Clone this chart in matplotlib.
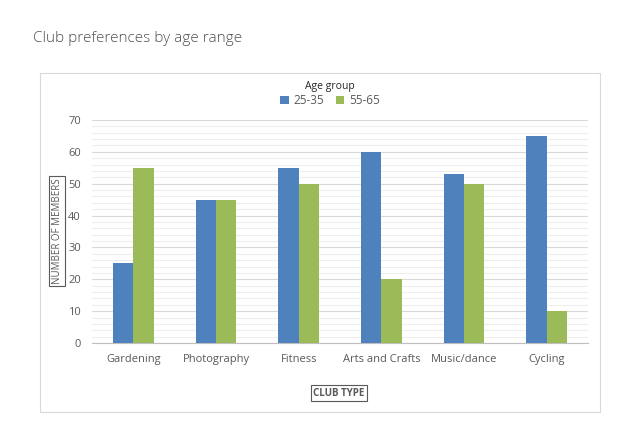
import numpy as np
import matplotlib.pyplot as plt
from matplotlib.patches import Rectangle
from matplotlib.ticker import MultipleLocator

plt.rcParams['font.family'] = ['Open Sans', 'DejaVu Sans']

# data
clubs = ['Gardening', 'Photography', 'Fitness', 'Arts and Crafts', 'Music/dance', 'Cycling']
age_25_35 = [25, 45, 55, 60, 53, 65]
age_55_65 = [55, 45, 50, 20, 50, 10]
groups = ['25-35', '55-65']

blue = '#4F81BD'
green = '#9BBB59'
txt = '#595959'

fig = plt.figure(figsize=(6.4, 4.46), dpi=100)

# outer chart box
fig.patches.append(Rectangle((40/640, 1-412/446), 560/640, 339/446, transform=fig.transFigure,
                             facecolor='white', edgecolor='#D9D9D9', linewidth=0.8, zorder=-5))

fig.text(33/640, 1-38/446, 'Club preferences by age range', fontsize=11, color='#505050',
         fontweight='light', va='center', ha='left')

ax = fig.add_axes([92/640, 1-343/446, 496/640, 223/446])
ax.set_facecolor('none')
ax.set_zorder(2)

x = np.arange(len(clubs))
w = 0.245
b1 = ax.bar(x - w/2, age_25_35, w, color=blue, label=groups[0], zorder=3)
b2 = ax.bar(x + w/2, age_55_65, w, color=green, label=groups[1], zorder=3)

ax.set_xlim(-0.5, len(clubs) - 0.5)
ax.set_ylim(0, 70)
ax.yaxis.set_major_locator(MultipleLocator(10))
ax.yaxis.set_minor_locator(MultipleLocator(2))
ax.grid(axis='y', which='major', color='#D9D9D9', linewidth=0.8, zorder=0)
ax.grid(axis='y', which='minor', color='#EEEEEE', linewidth=0.8, zorder=0)
ax.set_axisbelow(True)
ax.set_xticks(x)
ax.set_xticklabels(clubs)
ax.tick_params(axis='both', which='both', length=0, colors=txt, labelsize=8)
ax.tick_params(axis='x', pad=8)
ax.tick_params(axis='y', pad=8)
for s in ['top', 'right', 'left']:
    ax.spines[s].set_visible(False)
ax.spines['bottom'].set_color('#BFBFBF')

box = dict(boxstyle='square,pad=0.25', facecolor='white', edgecolor='#595959', linewidth=0.8)
fig.text(57/640, 1-231/446, 'NUMBER OF MEMBERS', rotation=90, fontsize=7, color=txt,
         ha='center', va='center', bbox=box)
fig.text(339/640, 1-393/446, 'CLUB TYPE', fontsize=7, color=txt, fontweight='bold',
         ha='center', va='center', bbox=box)

leg = fig.legend(handles=[b1, b2], labels=groups, title='Age group', ncol=2, frameon=False,
                 loc='center', bbox_to_anchor=(330/640, 1-94/446), fontsize=8.5,
                 title_fontsize=7.5, handlelength=0.7, handleheight=0.7, handletextpad=0.4,
                 columnspacing=1.0, borderpad=0, labelspacing=0.2)
for t in leg.get_texts():
    t.set_color(txt)
leg.get_title().set_color('#262626')

fig.savefig('out.png', dpi=100)
